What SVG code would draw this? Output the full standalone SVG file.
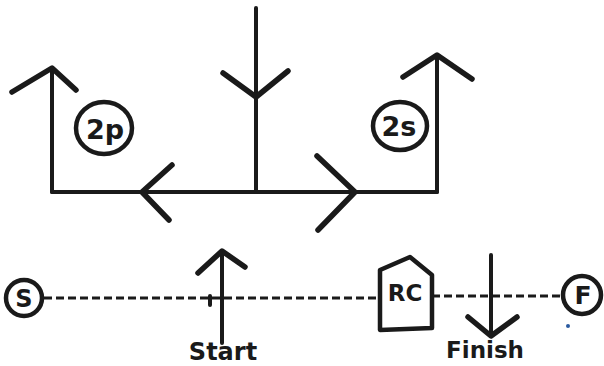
<svg xmlns="http://www.w3.org/2000/svg" width="604" height="366" viewBox="0 0 604 366">
<style>
.ln{fill:none;stroke:#1a1a1a;stroke-width:4;stroke-linecap:round;stroke-linejoin:round}
.hd{fill:none;stroke:#1a1a1a;stroke-width:5.5;stroke-linecap:round;stroke-linejoin:round}
.dash{fill:none;stroke:#1a1a1a;stroke-width:3;stroke-dasharray:8 4}
.mk{fill:#fff;stroke:#1a1a1a;stroke-width:4.5}
.t{font-family:"DejaVu Sans",Verdana,sans-serif;font-weight:bold;fill:#1a1a1a;text-anchor:middle}
</style>
<rect width="604" height="366" fill="#fff"/>
<g id="connectors">
  <path class="ln" d="M52,192 L437,192"/>
  <path class="ln" d="M52,192 L52,68"/>
  <path class="hd" d="M12,92 L52,68 L76,90"/>
  <path class="ln" d="M256,192 L256,8"/>
  <path class="hd" d="M223,73 L256,97 L288,71"/>
  <path class="ln" d="M437,192 L437,55"/>
  <path class="hd" d="M403,77 L437,55 L472,79"/>
  <path class="hd" d="M172,165 L142,192 L169,220"/>
  <path class="hd" d="M317,156 L355,192 L318,230"/>
  <path class="dash" d="M44,298 L378,298"/>
  <path class="dash" d="M432,296 L563,296"/>
  <path class="ln" d="M222,343 L222,251"/>
  <path class="hd" d="M198,273 L222,251 L245,267"/>
  <path class="ln" d="M210,296 L210,305"/>
  <path class="ln" d="M491,255 L491,336"/>
  <path class="hd" d="M468,317 L491,336 L517,317"/>
</g>
<g id="node-2p">
  <ellipse class="mk" cx="104" cy="128" rx="28" ry="26"/>
  <text class="t" x="105" y="139" font-size="27">2p</text>
</g>
<g id="node-2s">
  <ellipse class="mk" cx="400" cy="126" rx="27" ry="24"/>
  <text class="t" x="399" y="136" font-size="27">2s</text>
</g>
<g id="node-S">
  <circle class="mk" cx="24" cy="298" r="18"/>
  <text class="t" x="24" y="307" font-size="24">S</text>
</g>
<g id="node-F">
  <circle class="mk" cx="582" cy="295" r="19"/>
  <text class="t" x="583" y="304" font-size="25">F</text>
</g>
<g id="node-RC">
  <path class="mk" stroke-width="5" stroke-linejoin="round" d="M380,270 L410,257 L432,275 L432,328 L380,330 Z"/>
  <text class="t" x="405" y="301" font-size="23">RC</text>
</g>
<g id="labels">
  <text class="t" x="223" y="360" font-size="24">Start</text>
  <text class="t" x="485" y="358" font-size="23">Finish</text>
</g>
<circle cx="568" cy="326" r="2" fill="#2a5aa0"/>
</svg>
